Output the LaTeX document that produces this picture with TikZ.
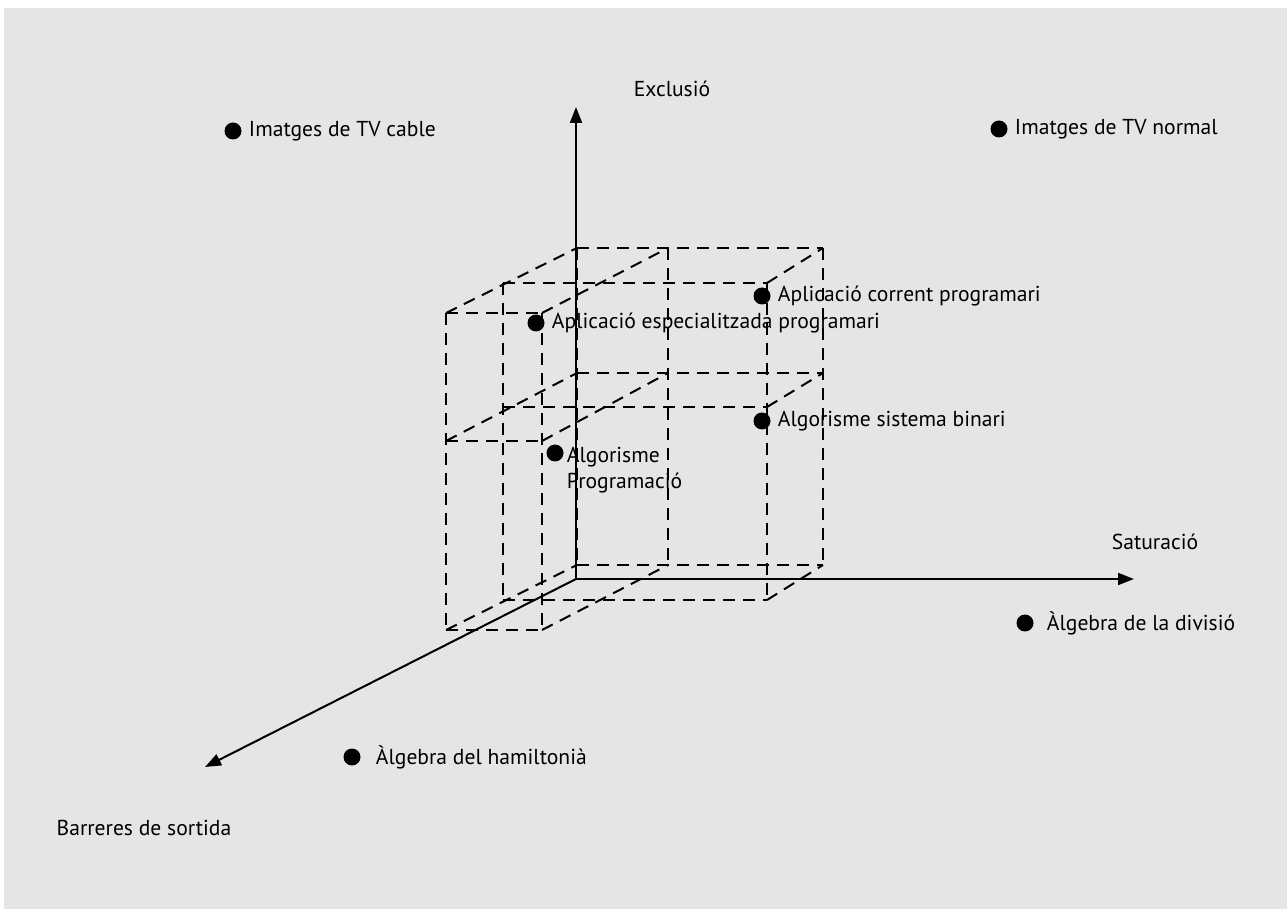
\documentclass[tikz,border=0pt]{standalone}
\usepackage{fontspec}
\setmainfont{PT Sans}
\usetikzlibrary{arrows.meta}

\begin{document}
\begin{tikzpicture}[x=0.5pt,y=-0.5pt,font=\fontsize{10.8}{13}\selectfont]
	\tikzset{dot/.style = {shape=circle, fill=black, inner sep=0pt, minimum size=8.5pt}}
	\tikzset{axis/.style = {line width=1pt, -{Triangle[length=8pt,width=6pt]}}}
	\tikzset{grid/.style = {line width=1pt, dash pattern=on 6pt off 4pt}}

	\useasboundingbox (0,0) rectangle (1287,909);
	\fill[black!10] (4,8) rectangle (1287,909);

	% back layer
	\coordinate (B_1) at (577,248);
	\coordinate (B_2) at (668,248);
	\coordinate (B_3) at (823,248);
	\coordinate (B_4) at (577,373);
	\coordinate (B_5) at (668,373);
	\coordinate (B_6) at (823,373);
	\coordinate (B_7) at (577,565);
	\coordinate (B_8) at (668,565);
	\coordinate (B_9) at (823,565);

	% middle layer
	\coordinate (M_1) at (503,283);
	\coordinate (M_2) at (767,283);
	\coordinate (M_3) at (503,407);
	\coordinate (M_4) at (767,407);
	\coordinate (M_5) at (503,600);
	\coordinate (M_6) at (767,600);

	% front layer
	\coordinate (F_1) at (446,313);
	\coordinate (F_2) at (542,313);
	\coordinate (F_3) at (446,441);
	\coordinate (F_4) at (542,441);
	\coordinate (F_5) at (446,630);
	\coordinate (F_6) at (542,630);

	\draw[grid] (B_1)--(B_3);
	\draw[grid] (B_4)--(B_6);
	\draw[grid] (B_7)--(B_9);
	\draw[grid] (B_1)--(B_7);
	\draw[grid] (B_2)--(B_8);
	\draw[grid] (B_3)--(B_9);

	\draw[grid] (M_1)--(M_2);
	\draw[grid] (M_3)--(M_4);
	\draw[grid] (M_5)--(M_6);
	\draw[grid] (M_1)--(M_5);
	\draw[grid] (M_2)--(M_6);

	\draw[grid] (F_1)--(F_2);
	\draw[grid] (F_3)--(F_4);
	\draw[grid] (F_5)--(F_6);
	\draw[grid] (F_1)--(F_5);
	\draw[grid] (F_2)--(F_6);

	\draw[grid] (F_1)--(B_1);
	\draw[grid] (F_3)--(B_4);
	\draw[grid] (F_5)--(B_7);
	\draw[grid] (F_2)--(B_2);
	\draw[grid] (F_4)--(B_5);
	\draw[grid] (F_6)--(B_8);
	\draw[grid] (M_2)--(B_3);
	\draw[grid] (M_4)--(B_6);
	\draw[grid] (M_6)--(B_9);

	% axes
	\coordinate (O) at (576,579);
	\coordinate (X) at (1134,579);
	\coordinate (Y) at (576,107);
	\coordinate (Z) at (205,767);

	\draw[axis] (O)--(X);
	\draw[axis] (O)--(Y);
	\draw[axis] (O)--(Z);

	\node[anchor=base] (lab_X) at (1155,550) {Saturació};
	\node[anchor=base] (lab_Y) at (672,97) {Exclusió};
	\node[anchor=base] (lab_Z) at (144,835) {Barreres de sortida};

	% points
	\node[dot, label=right:{Imatges de TV cable}] (tv_cable) at (233,131) {};
	\node[dot, label=right:{Imatges de TV normal}] (tv_normal) at (999,129) {};
	\node[dot, label=right:{Aplicació corrent programari}] (apl_corrent) at (762,296) {};
	\node[dot, label=right:{Aplicació especialitzada programari}] (apl_espec) at (536,323) {};
	\node[dot, label=right:{Algorisme sistema binari}] (alg_binari) at (762,421) {};
	\node[dot, label={[align=left, anchor=north west, label distance=-2pt, yshift=6.5pt]right:Algorisme\\Programació}] (alg_prog) at (555,453) {};
	\node[dot, label={[label distance=3pt]right:Àlgebra de la divisió}] (alg_divisio) at (1025,623) {};
	\node[dot, label={[label distance=4pt]right:Àlgebra del hamiltonià}] (alg_hamilton) at (352,757) {};

\end{tikzpicture}
\end{document}
